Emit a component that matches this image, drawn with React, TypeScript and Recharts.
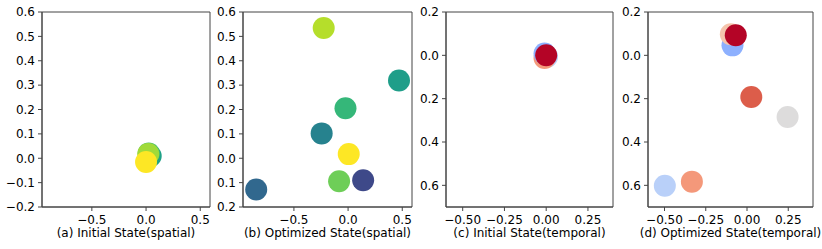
import React from 'react';
import {
  ScatterChart,
  Scatter,
  XAxis,
  YAxis,
  ReferenceArea,
  Cell,
} from 'recharts';

// (a) initial state, spatial
const initSpatialX = [0.043, 0.025, 0.02, 0.0];
const initSpatialY = [0.009, 0.02, 0.017, -0.015];
const initSpatialColors = ['#1fa187', '#4ac16d', '#a0da39', '#fde725'];

// (b) optimized state, spatial
const optSpatialX = [-0.225, 0.47, -0.024, -0.244, 0.006, -0.083, 0.139, -0.848];
const optSpatialY = [0.534, 0.319, 0.205, 0.102, 0.017, -0.094, -0.09, -0.128];
const optSpatialColors = ['#b5de2b', '#1f9e89', '#35b779', '#26828e', '#fde725', '#6ece58', '#3e4989', '#31688e'];

// (c) initial state, temporal
const initTemporalX = [0.005, -0.01, -0.01, 0.0];
const initTemporalY = [0.006, 0.012, -0.008, 0.0];
const initTemporalColors = ['#b9d0f9', '#f49a7b', '#8db0fe', '#b40426'];

// (d) optimized state, temporal
const optTemporalX = [-0.498, -0.334, 0.246, 0.026, -0.088, -0.098, -0.068];
const optTemporalY = [0.602, 0.583, 0.285, 0.192, -0.046, -0.097, -0.093];
const optTemporalColors = ['#b9d0f9', '#f4987a', '#dddcdc', '#dc5d4a', '#8db0fe', '#f5c4ac', '#b40426'];

const spatialXTicks = [-0.5, 0, 0.5];
const spatialYTicks = [-0.2, -0.1, 0, 0.1, 0.2, 0.3, 0.4, 0.5, 0.6];
const temporalXTicks = [-0.5, -0.25, 0, 0.25];
const temporalYTicks = [-0.2, 0, 0.2, 0.4, 0.6];

const titles = [
  '(a) Initial State(spatial)',
  '(b) Optimized State(spatial)',
  '(c) Initial State(temporal)',
  '(d) Optimized State(temporal)',
];

const FONT = { fontFamily: 'DejaVu Sans', fontSize: 12, fill: '#000' };
const AXIS = '#444';
const RIGHT_PAD = 14;

const signed = (d: number) => (v: number) => (v < 0 ? '\u2212' : '') + Math.abs(v).toFixed(d);
const unsigned = (d: number) => (v: number) => Math.abs(v).toFixed(d);

interface PanelProps {
  title: string;
  xs: number[];
  ys: number[];
  colors: string[];
  left: number;
  plotLeft: number;
  plotRight: number;
  xDomain: [number, number];
  yDomain: [number, number];
  xTicks: number[];
  yTicks: number[];
  xFmt: (v: number) => string;
  yFmt: (v: number) => string;
  reversed?: boolean;
}

function Panel(p: PanelProps) {
  const data = p.xs.map((x, i) => ({ x, y: p.ys[i] }));
  const yWidth = p.plotLeft - p.left;
  const width = p.plotRight - p.left + RIGHT_PAD;
  return (
    <div style={{ position: 'absolute', left: p.left, top: 0 }}>
      <ScatterChart width={width} height={249} margin={{ top: 12, right: RIGHT_PAD, bottom: 0, left: 0 }}>
        <XAxis
          type="number"
          dataKey="x"
          domain={p.xDomain}
          ticks={p.xTicks}
          allowDataOverflow
          tickFormatter={p.xFmt}
          tick={FONT}
          tickSize={4}
          tickMargin={4}
          stroke={AXIS}
          height={42}
          label={{ value: p.title, position: 'insideBottom', offset: 12, style: FONT }}
        />
        <YAxis
          type="number"
          dataKey="y"
          domain={p.yDomain}
          ticks={p.yTicks}
          allowDataOverflow
          reversed={p.reversed}
          tickFormatter={p.yFmt}
          tick={FONT}
          tickSize={4}
          tickMargin={3}
          stroke={AXIS}
          width={yWidth}
        />
        <ReferenceArea
          x1={p.xDomain[0]}
          x2={p.xDomain[1]}
          y1={p.yDomain[0]}
          y2={p.yDomain[1]}
          stroke={AXIS}
          fill="none"
          fillOpacity={0}
          ifOverflow="visible"
        />
        <Scatter
          data={data}
          isAnimationActive={false}
          shape={(s: any) => <circle cx={s.cx} cy={s.cy} r={11} fill={s.fill} />}
        >
          {data.map((_, i) => (
            <Cell key={`c-${i}`} fill={p.colors[i]} />
          ))}
        </Scatter>
      </ScatterChart>
    </div>
  );
}

export default function App() {
  return (
    <div style={{ position: 'absolute', left: 0, top: 0, width: 822, height: 249, background: '#fff', overflow: 'hidden' }}>
      <Panel
        title={titles[0]}
        xs={initSpatialX}
        ys={initSpatialY}
        colors={initSpatialColors}
        left={0}
        plotLeft={42}
        plotRight={210}
        xDomain={[-0.96, 0.59]}
        yDomain={[-0.2, 0.6]}
        xTicks={spatialXTicks}
        yTicks={spatialYTicks}
        xFmt={signed(1)}
        yFmt={signed(1)}
      />
      <Panel
        title={titles[1]}
        xs={optSpatialX}
        ys={optSpatialY}
        colors={optSpatialColors}
        left={212}
        plotLeft={243}
        plotRight={412}
        xDomain={[-0.97, 0.59]}
        yDomain={[-0.2, 0.6]}
        xTicks={spatialXTicks}
        yTicks={spatialYTicks}
        xFmt={signed(1)}
        yFmt={unsigned(1)}
      />
      <Panel
        title={titles[2]}
        xs={initTemporalX}
        ys={initTemporalY}
        colors={initTemporalColors}
        left={414}
        plotLeft={446}
        plotRight={613}
        xDomain={[-0.6, 0.4]}
        yDomain={[-0.2, 0.7]}
        xTicks={temporalXTicks}
        yTicks={temporalYTicks}
        xFmt={signed(2)}
        yFmt={unsigned(1)}
        reversed
      />
      <Panel
        title={titles[3]}
        xs={optTemporalX}
        ys={optTemporalY}
        colors={optTemporalColors}
        left={616}
        plotLeft={648}
        plotRight={813}
        xDomain={[-0.6, 0.4]}
        yDomain={[-0.2, 0.7]}
        xTicks={temporalXTicks}
        yTicks={temporalYTicks}
        xFmt={signed(2)}
        yFmt={unsigned(1)}
        reversed
      />
    </div>
  );
}
